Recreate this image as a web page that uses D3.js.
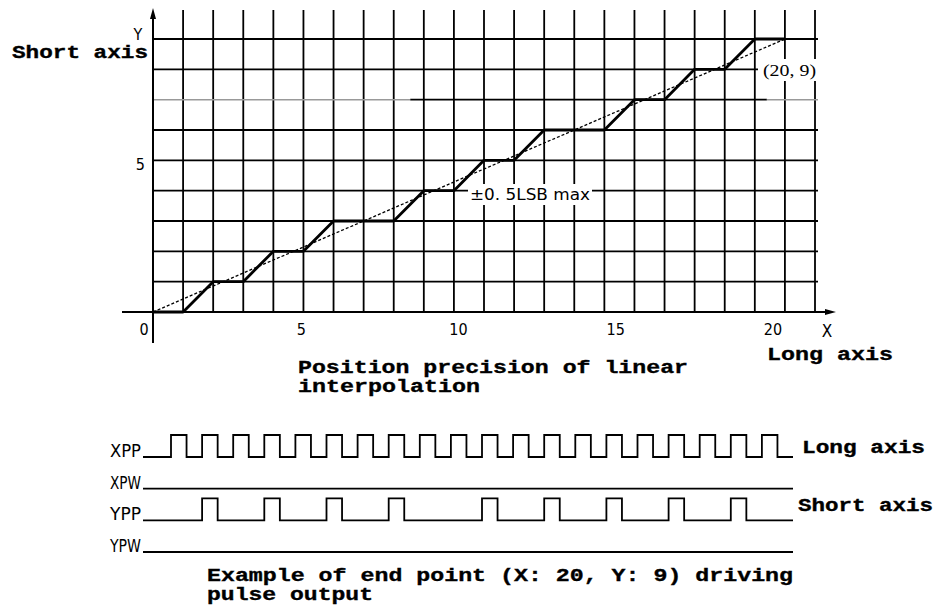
<!DOCTYPE html>
<html>
<head>
<meta charset="utf-8">
<script src="https://cdn.jsdelivr.net/npm/d3@7"></script>
<style>
  html, body { margin: 0; padding: 0; background: #fff; }
  svg { display: block; }
  .bold { font-family: "Liberation Mono", "DejaVu Sans Mono", monospace; font-weight: bold; font-size: 18px; fill: #000; stroke: #000; stroke-width: 0.35px; }
  .narrow { font-family: "Liberation Sans Narrow", "DejaVu Sans Condensed", "Liberation Sans", sans-serif; font-stretch: condensed; font-size: 15px; fill: #000; }
  .serif { font-family: "Liberation Serif", "DejaVu Serif", serif; font-size: 16px; fill: #000; }
</style>
</head>
<body>
<svg id="chart" width="936" height="606"></svg>
<script>
// ---------- data ----------
const xGridMax = 22;                 // number of grid columns
const yGridMax = 9;                  // number of grid rows
const xTickLabels = [0, 5, 10, 15, 20];
const yTickLabels = [5];
// staircase path actually followed (long axis X, short axis Y)
const stepX = [0, 1, 2, 3, 4, 5, 6, 8, 9, 10, 11, 12, 13, 15, 16, 17, 18, 19, 20, 21];
const stepY = [0, 0, 1, 1, 2, 2, 3, 3, 4, 4, 5, 5, 6, 6, 7, 7, 8, 8, 9, 9];
// ideal straight line
const idealX = [0, 21];
const idealY = [0, 9];
// pulse diagram
const signalNames = ["XPP", "XPW", "YPP", "YPW"];
const xppPulses = [0, 1, 2, 3, 4, 5, 6, 7, 8, 9, 10, 11, 12, 13, 14, 15, 16, 17, 18, 19];
const yppPulses = [1, 3, 5, 7, 10, 12, 14, 16, 18];
const pulseWidth = 0.5;
const timeStart = -0.9, timeEnd = 20;

// ---------- scales ----------
const svg = d3.select("#chart");
const x = d3.scaleLinear().domain([0, xGridMax]).range([153, 815]);
const y = d3.scaleLinear().domain([0, yGridMax]).range([312, 39]);
const xLabel = d3.scaleLinear().domain([0, 20]).range([144, 773]);
const t = d3.scaleLinear().domain([0, 20]).range([171, 793]);
const row = d3.scalePoint().domain(signalNames).range([457, 552]);
const pulseH = 22;

// ---------- grid ----------
const g = svg.append("g");
g.selectAll("line.vg").data(d3.range(1, xGridMax + 1)).join("line")
  .attr("x1", d => x(d)).attr("x2", d => x(d))
  .attr("y1", 10).attr("y2", y(0))
  .attr("stroke", "#000").attr("stroke-width", 1.8);
g.selectAll("line.hg").data(d3.range(1, yGridMax + 1)).join("line")
  .attr("x1", x(0)).attr("x2", x(xGridMax) + 3)
  .attr("y1", d => y(d)).attr("y2", d => y(d))
  .attr("stroke", d => d === 7 ? "none" : "#000").attr("stroke-width", 1.8);
g.append("line").attr("x1", x(0)).attr("x2", x(8.55)).attr("y1", y(7)).attr("y2", y(7))
  .attr("stroke", "#999").attr("stroke-width", 1.5);
g.append("line").attr("x1", x(8.55)).attr("x2", x(20.4)).attr("y1", y(7)).attr("y2", y(7))
  .attr("stroke", "#000").attr("stroke-width", 1.8);
g.append("line").attr("x1", x(20.4)).attr("x2", x(xGridMax) + 3).attr("y1", y(7)).attr("y2", y(7))
  .attr("stroke", "#999").attr("stroke-width", 1.5);

// axes
g.append("line").attr("x1", x(0)).attr("x2", x(0)).attr("y1", 12).attr("y2", 343)
  .attr("stroke", "#000").attr("stroke-width", 2);
g.append("path").attr("d", `M${x(0)},8 L${x(0) - 3},19 L${x(0) + 3},19 Z`).attr("fill", "#000");
g.append("line").attr("x1", 122).attr("x2", 832).attr("y1", y(0)).attr("y2", y(0))
  .attr("stroke", "#000").attr("stroke-width", 2);
g.append("path").attr("d", `M836,${y(0)} L825,${y(0) - 3} L825,${y(0) + 3} Z`).attr("fill", "#000");

// ideal line (dashed)
const lineGen = d3.line().x(d => x(d[0])).y(d => y(d[1]));
g.append("path").datum(d3.zip(idealX, idealY)).attr("d", lineGen)
  .attr("fill", "none").attr("stroke", "#000").attr("stroke-width", 1.3)
  .attr("stroke-dasharray", "3,2");
// staircase
g.append("path").datum(d3.zip(stepX, stepY)).attr("d", lineGen)
  .attr("fill", "none").attr("stroke", "#000").attr("stroke-width", 2.8)
  .attr("stroke-linejoin", "round");

// tick labels
g.selectAll("text.xt").data(xTickLabels).join("text").attr("class", "narrow")
  .attr("x", d => xLabel(d)).attr("y", 335).attr("text-anchor", "middle")
  .style("font-size", "16px").text(d => d);
g.selectAll("text.yt").data(yTickLabels).join("text").attr("class", "narrow")
  .attr("x", 145).attr("y", d => y(d) + 10).attr("text-anchor", "end")
  .style("font-size", "16px").text(d => d);
g.append("text").attr("class", "narrow").attr("x", 138).attr("y", 40)
  .attr("text-anchor", "middle").style("font-size", "16px").text("Y");
g.append("text").attr("class", "narrow").attr("x", 827).attr("y", 337)
  .attr("text-anchor", "middle").style("font-size", "17px").text("X");

// annotations with white background
g.append("rect").attr("x", 468).attr("y", 184).attr("width", 124).attr("height", 21).attr("fill", "#fff");
g.append("text").attr("class", "narrow").attr("x", 470).attr("y", 200)
  .attr("textLength", 120).attr("lengthAdjust", "spacingAndGlyphs").style("font-size", "16px").text("±0. 5LSB max");
g.append("rect").attr("x", 758).attr("y", 59).attr("width", 60).attr("height", 22).attr("fill", "#fff");
g.append("text").attr("class", "serif").attr("x", 763).attr("y", 76)
  .attr("textLength", 53).attr("lengthAdjust", "spacingAndGlyphs").text("(20, 9)");

// bold captions
function bold(txt, x0, yb, len) {
  svg.append("text").attr("class", "bold").attr("x", x0).attr("y", yb)
    .attr("textLength", len).attr("lengthAdjust", "spacingAndGlyphs").text(txt);
}
bold("Short axis", 12, 58, 136);
bold("Long axis", 767, 360, 126);
bold("Position precision of linear", 298, 373, 390);
bold("interpolation", 298, 392, 182);

// ---------- pulse diagram ----------
function pulsePath(pulses, base) {
  const p = d3.path();
  p.moveTo(t(timeStart), base);
  pulses.forEach(s => {
    p.lineTo(t(s), base);
    p.lineTo(t(s), base - pulseH);
    p.lineTo(t(s + pulseWidth), base - pulseH);
    p.lineTo(t(s + pulseWidth), base);
  });
  p.lineTo(t(timeEnd), base);
  return p.toString();
}
const pulseData = { XPP: xppPulses, XPW: [], YPP: yppPulses, YPW: [] };
const pg = svg.append("g");
pg.selectAll("path").data(signalNames).join("path")
  .attr("d", d => pulsePath(pulseData[d], row(d)))
  .attr("fill", "none").attr("stroke", "#000").attr("stroke-width", 1.8);
pg.selectAll("text").data(signalNames).join("text").attr("class", "narrow")
  .attr("x", 141).attr("y", d => row(d)).attr("text-anchor", "end")
  .attr("textLength", 31).attr("lengthAdjust", "spacingAndGlyphs")
  .style("font-size", "17px").text(d => d);

bold("Long axis", 802, 453, 123);
bold("Short axis", 798, 511, 135);
bold("Example of end point (X: 20, Y: 9) driving", 207, 581, 586);
bold("pulse output", 207, 600, 166);
</script>
</body>
</html>
